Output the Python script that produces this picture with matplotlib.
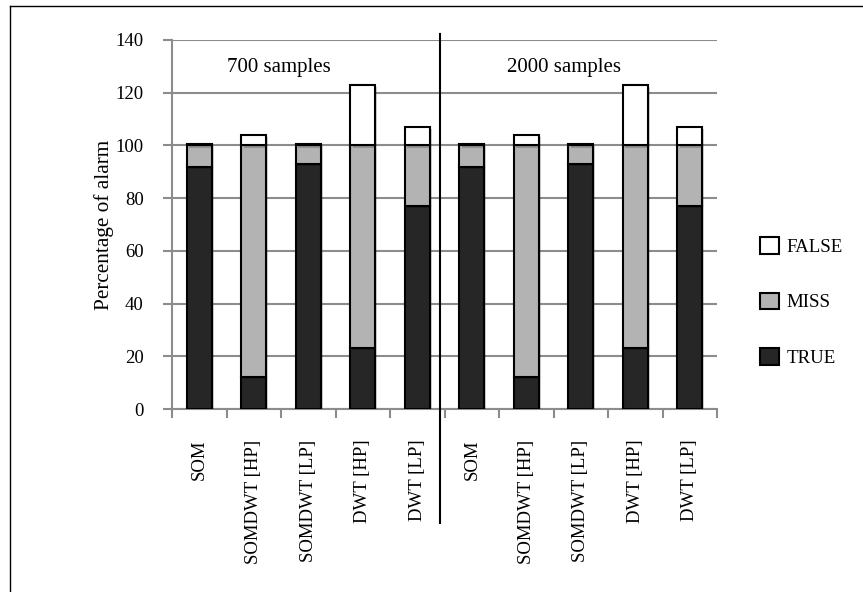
import matplotlib
matplotlib.use("Agg")
import matplotlib.pyplot as plt
import matplotlib.patheffects as pe
from matplotlib.patches import Patch
from matplotlib.lines import Line2D
import matplotlib.transforms as mtransforms
import numpy as np

plt.rcParams['font.family'] = ['Liberation Serif', 'DejaVu Serif']

# Methods compared in each sample-size group
categories = ["SOM", "SOMDWT [HP]", "SOMDWT [LP]", "DWT [HP]", "DWT [LP]",
              "SOM", "SOMDWT [HP]", "SOMDWT [LP]", "DWT [HP]", "DWT [LP]"]

# Alarm percentages (stacked: TRUE, MISS, FALSE)
true_vals = [92, 12, 93, 23, 77, 92, 12, 93, 23, 77]
miss_vals = [8, 88, 7, 77, 23, 8, 88, 7, 77, 23]
false_vals = [0.6, 4, 0.6, 23, 7, 0.6, 4, 0.6, 23, 7]

group_labels = ["700 samples", "2000 samples"]
yticks = [0, 20, 40, 60, 80, 100, 120, 140]

W, H = 863, 592
fig = plt.figure(figsize=(W / 100, H / 100), dpi=100)
ax = fig.add_axes([172 / W, 1 - 409 / H, (717 - 172) / W, (409 - 40) / H])

x = np.arange(len(categories))
bw = 0.45
shadow = [pe.SimplePatchShadow(offset=(1.5, -1.5), shadow_rgbFace='#000000', alpha=0.18), pe.Normal()]
kw = dict(width=bw, edgecolor='black', linewidth=1.5, zorder=3)

b1 = ax.bar(x, true_vals, color='#262626', **kw)
b2 = ax.bar(x, miss_vals, bottom=true_vals, color='#b3b3b3', **kw)
bottom2 = np.array(true_vals) + np.array(miss_vals)
b3 = ax.bar(x, false_vals, bottom=bottom2, color='white', **kw)
for bars in (b1, b2, b3):
    for p in bars:
        p.set_path_effects(shadow)

ax.set_xlim(-0.5, len(categories) - 0.5)
ax.set_ylim(0, 140)
ax.set_yticks(yticks)
ax.set_xticks(x)
ax.set_xticklabels(categories, rotation=90, va='top', ha='center')
ax.set_xticks(np.arange(-0.5, len(categories)), minor=True)
ax.tick_params(axis='x', which='major', length=0, pad=22, labelsize=13.5)
ax.tick_params(axis='x', which='minor', length=6.5, width=1.5, color='#8c8c8c', direction='out')
ax.tick_params(axis='y', length=6.5, width=1.5, color='#8c8c8c', pad=14, labelsize=13.5)

ax.grid(axis='y', color='#8c8c8c', linewidth=1.5, zorder=0)
ax.set_axisbelow(True)
for s in ('top', 'right'):
    ax.spines[s].set_visible(False)
for s in ('left', 'bottom'):
    ax.spines[s].set_color('#8c8c8c')
    ax.spines[s].set_linewidth(1.5)

ax.set_ylabel("Percentage of alarm", fontsize=15.3)
ax.yaxis.set_label_coords(-0.124, 0.5)
ax.yaxis.label.set_va('center')

ax.text(1.47, 129.4, group_labels[0], ha='center', va='center', fontsize=15)
ax.text(6.7, 129.4, group_labels[1], ha='center', va='center', fontsize=15)

# Divider between the two sample-size groups
trans = mtransforms.blended_transform_factory(ax.transData, fig.transFigure)
fig.add_artist(Line2D([4.42, 4.42], [1 - 34 / H, 1 - 523 / H], transform=trans,
                      color='black', linewidth=1.5))

# Outer frame
fig.add_artist(Line2D([10 / W, 10 / W], [0, 1 - 6 / H], transform=fig.transFigure, color='black', linewidth=1))
fig.add_artist(Line2D([10 / W, 1], [1 - 6 / H, 1 - 6 / H], transform=fig.transFigure, color='black', linewidth=1))

handles = [Patch(facecolor='white', edgecolor='black', linewidth=1.5),
           Patch(facecolor='#b3b3b3', edgecolor='black', linewidth=1.5),
           Patch(facecolor='#262626', edgecolor='black', linewidth=1.5)]
fig.legend(handles, ["FALSE", "MISS", "TRUE"], loc='center left',
           bbox_to_anchor=(760 / W, 1 - 302 / H), bbox_transform=fig.transFigure,
           frameon=False, fontsize=13.6, handlelength=1.0, handleheight=1.0,
           handletextpad=0.4, labelspacing=1.95, borderpad=0, borderaxespad=0)

fig.savefig("out.png", dpi=100, facecolor='white')
